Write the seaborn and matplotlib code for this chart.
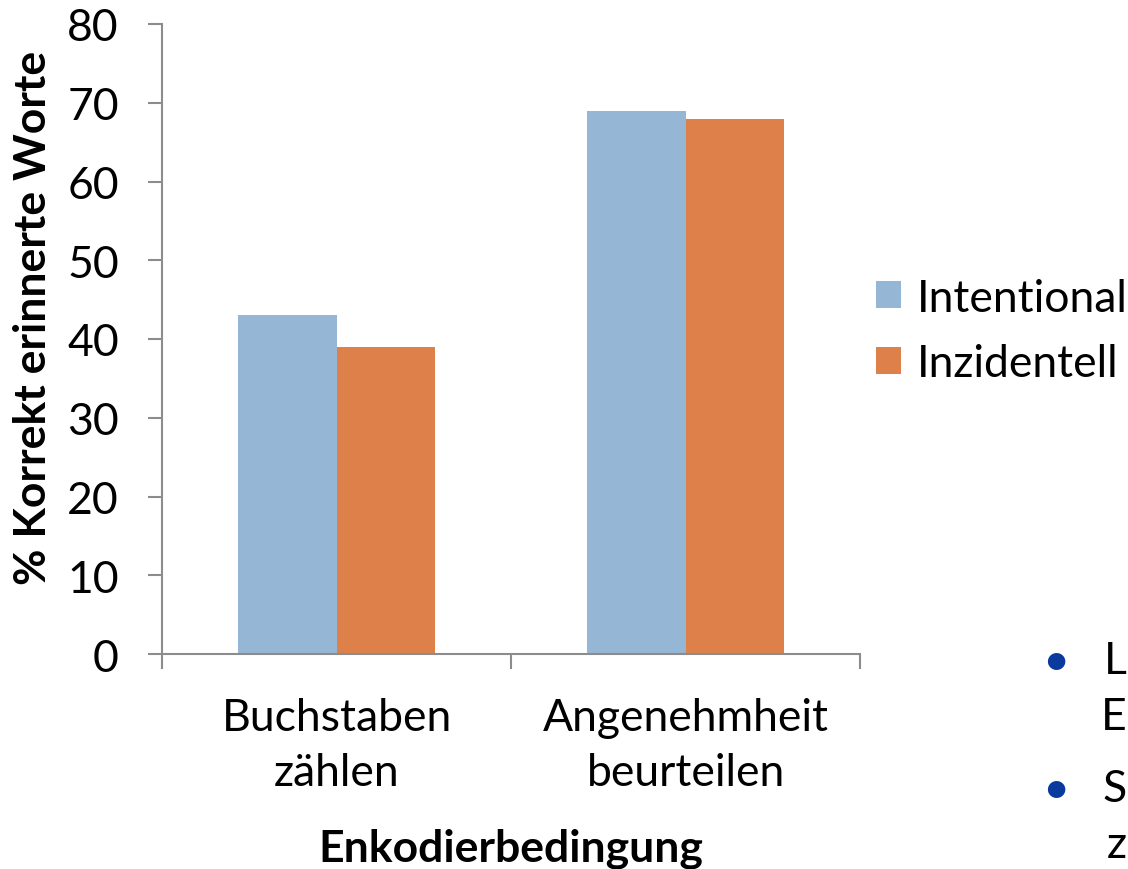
import matplotlib
matplotlib.use("Agg")
import matplotlib.pyplot as plt
import seaborn as sns
import pandas as pd

# Recall data per encoding condition
conditions = ["Buchstaben\nzählen", "Angenehmheit\nbeurteilen"]
groups = ["Intentional", "Inzidentell"]
intentional = [43, 69]
inzidentell = [39, 68]
y_ticks = [0, 10, 20, 30, 40, 50, 60, 70, 80]
colors = ["#95B6D4", "#DE8049"]

df = pd.DataFrame({
    "Bedingung": conditions * 2,
    "Gruppe": [groups[0]] * 2 + [groups[1]] * 2,
    "Wert": intentional + inzidentell,
})

sns.set_theme(style="white")
plt.rcParams["font.family"] = ["Lato", "DejaVu Sans"]
plt.rcParams["text.color"] = "black"
plt.rcParams["xtick.color"] = "black"
plt.rcParams["ytick.color"] = "black"
plt.rcParams["axes.labelcolor"] = "black"

FS = 32
fig = plt.figure(figsize=(11.28, 8.70), dpi=100)
ax = fig.add_axes([162 / 1128, 1 - 655 / 870, (860 - 162) / 1128, (655 - 25) / 870])

sns.barplot(data=df, x="Bedingung", y="Wert", hue="Gruppe", order=conditions,
            hue_order=groups, palette=colors, width=0.566, gap=0,
            saturation=1, linewidth=0, ax=ax)

ax.set_xlim(-0.5, 1.5)
ax.set_ylim(0, 80)
ax.set_yticks(y_ticks)
ax.set_yticklabels([str(v) for v in y_ticks], fontsize=FS)

ax.set_xticks([0, 1])
ax.set_xticklabels(conditions, fontsize=FS, linespacing=1.42)
ax.set_xticks([-0.5, 0.5, 1.5], minor=True)
ax.tick_params(axis="x", which="major", length=0, pad=31)
ax.tick_params(axis="x", which="minor", length=11, width=1.5, color="#8C8C8C",
               bottom=True)
ax.tick_params(axis="y", which="major", length=10, width=1.5, color="#8C8C8C",
               left=True, pad=21)

for side in ["top", "right"]:
    ax.spines[side].set_visible(False)
for side in ["left", "bottom"]:
    ax.spines[side].set_color("#8C8C8C")
    ax.spines[side].set_linewidth(1.5)

ax.set_xlabel("Enkodierbedingung", fontsize=FS, fontweight="bold", labelpad=25)
ax.set_ylabel("% Korrekt erinnerte Worte", fontsize=FS, fontweight="bold")
ax.yaxis.set_label_coords(-0.156, 0.535)

handles, labels = ax.get_legend_handles_labels()
ax.legend(handles, labels, loc="center left", bbox_to_anchor=(0.998, 0.513),
          frameon=False, fontsize=FS, handlelength=0.56, handleheight=0.56,
          handletextpad=0.34, labelspacing=0.55, borderaxespad=0)

# Bullets of the neighbouring slide text at the right edge
for yb, first, second in [(662, "L", "E"), (790, "S", "z")]:
    fig.text(1056 / 1128, 1 - yb / 870, "•", color="#0A3A9E", fontsize=34,
             ha="center", va="center")
    fig.text(1127 / 1128, 1 - yb / 870, first, fontsize=FS, ha="right", va="center")
    fig.text(1127 / 1128, 1 - (yb + 56) / 870, second, fontsize=FS, ha="right", va="center")

fig.savefig("out.png", dpi=100)
